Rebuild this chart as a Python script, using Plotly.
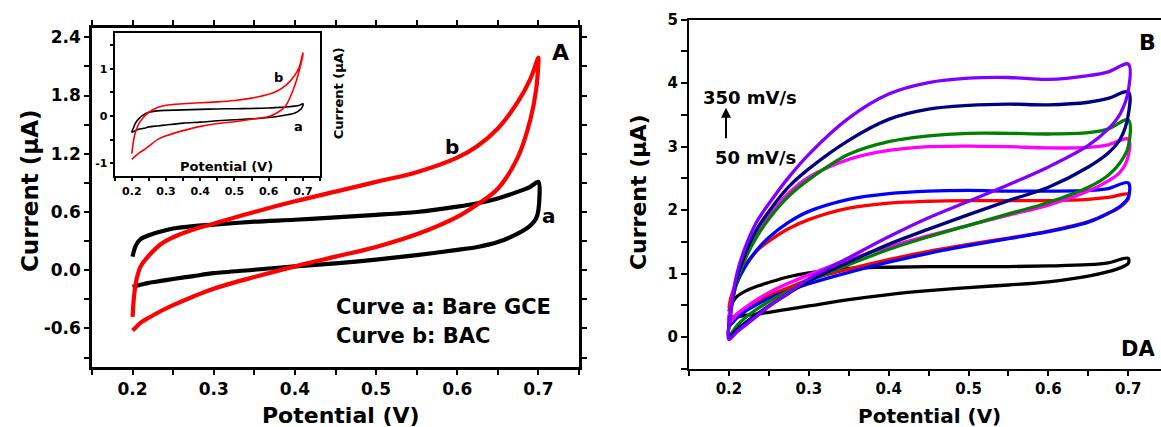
import plotly.graph_objects as go

W, H = 1161, 427
FONT = "DejaVu Sans"

# ---------------- Panel A data (main) ----------------
E_FWD_A = [0.2, 0.202, 0.205, 0.21, 0.22, 0.235, 0.25, 0.275, 0.3, 0.35, 0.4, 0.45,
           0.5, 0.55, 0.6, 0.625, 0.65, 0.675, 0.69, 0.7]
E_REV_A = [0.7, 0.697, 0.69, 0.675, 0.65, 0.625, 0.6, 0.55, 0.5, 0.45, 0.4, 0.35,
           0.3, 0.275, 0.25, 0.235, 0.22, 0.21, 0.205, 0.2]
A_BARE_FWD = [0.14, 0.21, 0.27, 0.32, 0.36, 0.40, 0.43, 0.455, 0.47, 0.50, 0.52, 0.545,
              0.57, 0.60, 0.655, 0.69, 0.74, 0.81, 0.86, 0.91]
A_BARE_REV = [0.62, 0.53, 0.46, 0.38, 0.29, 0.24, 0.21, 0.155, 0.11, 0.07, 0.04, 0.005,
              -0.03, -0.06, -0.09, -0.11, -0.13, -0.15, -0.16, -0.17]
A_BAC_FWD = [-0.48, -0.25, -0.09, 0.04, 0.15, 0.27, 0.34, 0.42, 0.48, 0.60, 0.71, 0.81,
             0.91, 1.01, 1.16, 1.28, 1.46, 1.74, 1.97, 2.19]
A_BAC_REV = [2.15, 1.85, 1.55, 1.17, 0.84, 0.68, 0.55, 0.37, 0.24, 0.14, 0.04, -0.07,
             -0.19, -0.27, -0.36, -0.42, -0.49, -0.54, -0.58, -0.62]

# ---------------- Inset data ----------------
E_FWD_IN = [0.2, 0.205, 0.21, 0.22, 0.235, 0.25, 0.275, 0.3, 0.35, 0.4, 0.45, 0.5,
            0.55, 0.6, 0.625, 0.65, 0.675, 0.69, 0.7]
E_REV_IN = [0.7, 0.69, 0.675, 0.65, 0.625, 0.6, 0.55, 0.5, 0.45, 0.4, 0.35, 0.3,
            0.275, 0.25, 0.235, 0.22, 0.21, 0.2]
IN_BARE_FWD = [-0.34, -0.25, -0.16, -0.06, 0.03, 0.08, 0.11, 0.12, 0.13, 0.14, 0.15, 0.155,
               0.16, 0.17, 0.18, 0.19, 0.21, 0.23, 0.26]
IN_BARE_REV = [0.22, 0.12, 0.06, 0.02, -0.01, -0.03, -0.06, -0.08, -0.10, -0.13, -0.15, -0.19,
               -0.21, -0.23, -0.26, -0.28, -0.31, -0.34]
IN_BAC_FWD = [-0.80, -0.52, -0.36, -0.17, -0.02, 0.08, 0.18, 0.23, 0.26, 0.28, 0.30, 0.33,
              0.38, 0.46, 0.53, 0.65, 0.85, 1.05, 1.34]
IN_BAC_REV = [1.30, 0.98, 0.62, 0.22, 0.07, -0.01, -0.07, -0.12, -0.16, -0.22, -0.31, -0.42,
              -0.50, -0.64, -0.72, -0.79, -0.85, -0.92]

# ---------------- Panel B data (scan rates 50 -> 350 mV/s) ----------------
E_FWD_B = [0.2, 0.202, 0.205, 0.21, 0.22, 0.235, 0.25, 0.275, 0.3, 0.35, 0.4, 0.45, 0.5,
           0.55, 0.6, 0.65, 0.675, 0.7]
E_REV_B = [0.7, 0.69, 0.675, 0.65, 0.6, 0.55, 0.5, 0.45, 0.4, 0.35, 0.3, 0.275,
           0.25, 0.235, 0.22, 0.21, 0.2]
B_COLORS = ["#000000", "#FF0000", "#0000FF", "#FF00FF", "#008000", "#000080", "#8000FF"]
B_FWD = [
    [0.40, 0.49, 0.56, 0.64, 0.72, 0.80, 0.86, 0.95, 1.01, 1.08, 1.10, 1.11, 1.11, 1.11, 1.12, 1.14, 1.17, 1.24],
    [0.45, 0.60, 0.72, 0.90, 1.13, 1.36, 1.51, 1.71, 1.85, 2.03, 2.11, 2.14, 2.15, 2.15, 2.15, 2.17, 2.20, 2.25],
    [0.18, 0.45, 0.64, 0.85, 1.10, 1.37, 1.57, 1.81, 1.98, 2.17, 2.26, 2.30, 2.31, 2.30, 2.30, 2.31, 2.34, 2.43],
    [0.22, 0.48, 0.68, 0.93, 1.26, 1.62, 1.91, 2.27, 2.52, 2.80, 2.94, 3.00, 3.01, 3.00, 2.98, 2.99, 3.03, 3.12],
    [0.02, 0.35, 0.60, 0.88, 1.22, 1.58, 1.86, 2.22, 2.48, 2.88, 3.08, 3.17, 3.21, 3.21, 3.20, 3.22, 3.28, 3.42],
    [0.00, 0.36, 0.62, 0.93, 1.30, 1.70, 1.98, 2.37, 2.65, 3.10, 3.43, 3.59, 3.65, 3.67, 3.66, 3.70, 3.76, 3.86],
    [-0.04, 0.36, 0.66, 1.00, 1.40, 1.82, 2.10, 2.52, 2.88, 3.45, 3.83, 4.01, 4.08, 4.09, 4.06, 4.12, 4.18, 4.30],
]
B_REV = [
    [1.16, 1.09, 1.03, 0.96, 0.87, 0.82, 0.78, 0.73, 0.67, 0.59, 0.49, 0.44, 0.39, 0.36, 0.34, 0.32, 0.31],
    [2.18, 2.05, 1.95, 1.82, 1.67, 1.56, 1.46, 1.35, 1.22, 1.07, 0.90, 0.78, 0.65, 0.56, 0.45, 0.36, 0.24],
    [2.20, 2.06, 1.95, 1.81, 1.66, 1.55, 1.44, 1.32, 1.18, 1.02, 0.84, 0.73, 0.61, 0.51, 0.40, 0.30, 0.18],
    [2.85, 2.60, 2.46, 2.30, 2.08, 1.92, 1.76, 1.60, 1.42, 1.22, 0.98, 0.85, 0.70, 0.59, 0.46, 0.36, 0.22],
    [3.00, 2.75, 2.55, 2.36, 2.12, 1.94, 1.76, 1.58, 1.38, 1.14, 0.88, 0.73, 0.56, 0.44, 0.30, 0.18, 0.02],
    [3.50, 3.12, 2.90, 2.68, 2.36, 2.15, 1.93, 1.70, 1.46, 1.18, 0.88, 0.69, 0.49, 0.36, 0.22, 0.12, 0.00],
    [3.88, 3.52, 3.28, 3.02, 2.68, 2.40, 2.14, 1.88, 1.58, 1.25, 0.92, 0.70, 0.48, 0.33, 0.18, 0.08, -0.04],
]

# tick labels
A_YTICKS = [-0.6, 0.0, 0.6, 1.2, 1.8, 2.4]
A_YTEXT = ["-0.6", "0.0", "0.6", "1.2", "1.8", "2.4"]
IN_YTICKS = [-1, 0, 1]
IN_YTEXT = ["-1", "0", "1"]
X_TICKS = [0.2, 0.3, 0.4, 0.5, 0.6, 0.7]
X_TEXT = ["0.2", "0.3", "0.4", "0.5", "0.6", "0.7"]
B_YTICKS = [0, 1, 2, 3, 4, 5]
B_YTEXT = ["0", "1", "2", "3", "4", "5"]


def px(x):
    return x / W


def py(y):
    return 1 - y / H


fig = go.Figure()


def loop(efwd, ifwd, erev, irev, color, width, xa, ya, smooth=0.8):
    fig.add_trace(go.Scatter(
        x=list(efwd) + list(erev), y=list(ifwd) + list(irev), mode="lines",
        line=dict(color=color, width=width, shape="spline", smoothing=smooth),
        xaxis=xa, yaxis=ya, showlegend=False, hoverinfo="skip"))


loop(E_FWD_A, A_BARE_FWD, E_REV_A, A_BARE_REV, "#000000", 4.2, "x", "y")
loop(E_FWD_A, A_BAC_FWD, E_REV_A, A_BAC_REV, "#FF0000", 4.2, "x", "y", smooth=1.0)
loop(E_FWD_IN, IN_BARE_FWD, E_REV_IN, IN_BARE_REV, "#000000", 1.6, "x3", "y3")
loop(E_FWD_IN, IN_BAC_FWD, E_REV_IN, IN_BAC_REV, "#FF0000", 1.6, "x3", "y3")
for c, f, r in zip(B_COLORS, B_FWD, B_REV):
    loop(E_FWD_B, f, E_REV_B, r, c, 3.3, "x2", "y2", smooth=1.0)

tickf = lambda s: dict(family=FONT, size=s, color="black", weight="bold")

common = dict(showgrid=False, zeroline=False, showline=True, linecolor="black",
              ticks="outside", tickcolor="black")

fig.update_layout(
    width=W, height=H, margin=dict(l=0, r=0, t=0, b=0),
    paper_bgcolor="white", plot_bgcolor="white", showlegend=False,
    xaxis=dict(**common, domain=[px(92), px(579)], range=[0.15, 0.75], anchor="y",
               linewidth=2.5, mirror="allticks", ticklen=5, tickwidth=2,
               tickvals=X_TICKS, ticktext=X_TEXT, tickfont=tickf(17),
               minor=dict(dtick=0.05, tick0=0.15, ticks="outside", ticklen=5, tickwidth=2,
                          tickcolor="black")),
    yaxis=dict(**common, domain=[py(366), py(19)], range=[-1.0, 2.5], anchor="x",
               linewidth=2.5, mirror="allticks", ticklen=5, tickwidth=2,
               tickvals=A_YTICKS, ticktext=A_YTEXT, tickfont=tickf(17),
               minor=dict(dtick=0.3, tick0=0, ticks="outside", ticklen=5, tickwidth=2,
                          tickcolor="black")),
    xaxis2=dict(**common, domain=[px(689), 1.0], range=[0.15, 0.741], anchor="y2",
                linewidth=2.2, mirror=True, ticklen=5, tickwidth=2,
                tickvals=X_TICKS, ticktext=X_TEXT, tickfont=tickf(15),
                minor=dict(dtick=0.05, tick0=0.15, ticks="outside", ticklen=5, tickwidth=2,
                           tickcolor="black")),
    yaxis2=dict(**common, domain=[py(367.5), py(11)], range=[-0.5, 5.0], anchor="x2",
                linewidth=2.2, mirror=False, ticklen=6, tickwidth=2,
                tickvals=B_YTICKS, ticktext=B_YTEXT, tickfont=tickf(15),
                minor=dict(dtick=0.5, tick0=0, ticks="outside", ticklen=6, tickwidth=2,
                           tickcolor="black")),
    xaxis3=dict(**common, domain=[px(114.7), px(320)], range=[0.15, 0.75], anchor="y3",
                linewidth=2, mirror=True, ticklen=3, tickwidth=1.5,
                tickvals=X_TICKS, ticktext=X_TEXT, tickfont=tickf(11),
                minor=dict(dtick=0.05, tick0=0.15, ticks="outside", ticklen=3, tickwidth=1.5,
                           tickcolor="black")),
    yaxis3=dict(**common, domain=[py(171), py(25)], range=[-1.28, 1.75], anchor="x3",
                linewidth=2, mirror=True, ticklen=3, tickwidth=1.5,
                tickvals=IN_YTICKS, ticktext=IN_YTEXT, tickfont=tickf(11),
                minor=dict(dtick=0.5, tick0=0, ticks="outside", ticklen=3, tickwidth=1.5,
                           tickcolor="black")),
)


def label(text, x, y, size, angle=0, xanchor="center"):
    fig.add_annotation(text=text, x=px(x), y=py(y), xref="paper", yref="paper",
                       showarrow=False, textangle=angle, xanchor=xanchor, yanchor="middle",
                       font=dict(family=FONT, size=size, color="black", weight="bold"))


# Panel A
label("Potential (V)", 341, 415, 22)
label("Current (μA)", 30, 186, 23, angle=-90)
label("A", 560, 44, 22)
label("b", 452, 141, 20)
label("a", 549, 211, 20)
label("Curve a: Bare GCE", 334, 304, 21, xanchor="left")
label("Curve b: BAC", 334, 334, 21, xanchor="left")
# Inset
label("Potential (V)", 226, 161, 13)
label("Current (μA)", 338, 86, 13, angle=-90)
label("b", 278, 70, 13)
label("a", 298, 120, 13)
# Panel B
label("Potential (V)", 929, 416, 20)
label("Current (μA)", 638, 187, 22, angle=-90)
label("B", 1147, 34, 22)
label("DA", 1138, 347, 21)
label("350 mV/s", 750, 90, 18)
label("50 mV/s", 755, 152, 18)
fig.add_annotation(x=px(726), y=py(101), xref="paper", yref="paper", text="",
                   showarrow=True, ax=0, ay=32, arrowhead=2, arrowsize=1, arrowwidth=2,
                   arrowcolor="black")

fig.write_html("out.html")
